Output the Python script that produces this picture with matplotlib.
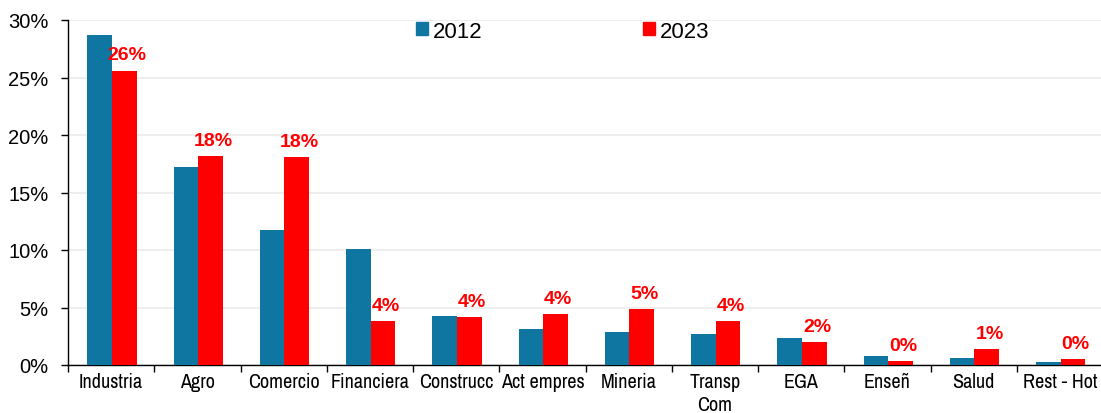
import numpy as np
import matplotlib
matplotlib.use("Agg")
import matplotlib.pyplot as plt
from matplotlib import font_manager
from matplotlib.patches import Patch
from matplotlib.ticker import MultipleLocator, FuncFormatter, FixedLocator

# datos (participación por sector)
sectores = ['Industria', 'Agro', 'Comercio', 'Financiera', 'Construcc', 'Act empres',
            'Mineria', 'Transp\nCom', 'EGA', 'Enseñ', 'Salud', 'Rest - Hot']
v2012 = [28.7, 17.2, 11.7, 10.1, 4.3, 3.1, 2.9, 2.7, 2.35, 0.75, 0.64, 0.26]
v2023 = [25.6, 18.2, 18.1, 3.8, 4.15, 4.4, 4.9, 3.8, 1.97, 0.38, 1.36, 0.49]
etiquetas_2023 = ['26%', '18%', '18%', '4%', '4%', '4%', '5%', '4%', '2%', '0%', '1%', '0%']

color_2012 = '#0E76A0'
color_2023 = '#FF0000'

plt.rcParams['font.family'] = ['Liberation Sans', 'DejaVu Sans']

# fuente estrecha para el eje x si existe alguna instalada
narrow = None
for f in font_manager.fontManager.ttflist:
    if 'Narrow' in f.name or ('Condensed' in f.name and 'Sans' in f.name):
        narrow = f.name
        break
if narrow:
    xfont = dict(fontfamily=[narrow, 'Liberation Sans'], fontsize=14.5)
else:
    xfont = dict(fontfamily=['Liberation Sans'], fontsize=12)

fig = plt.figure(figsize=(11.01, 4.14), dpi=100)
ax = fig.add_axes([68 / 1101, 48 / 414, 1035 / 1101, 345 / 414])

x = np.arange(len(sectores))
w = 0.285
ax.bar(x - w / 2 + 0.01, v2012, width=w, color=color_2012, zorder=3)
ax.bar(x + w / 2 + 0.01, v2023, width=w, color=color_2023, zorder=3)

# etiquetas de 2023
for xi, v, lab in zip(x, v2023, etiquetas_2023):
    ax.annotate(lab, (xi + w / 2 + 0.01, v), xytext=(2, 8), textcoords='offset points',
                ha='center', va='baseline', color=color_2023, fontsize=14, fontweight='bold')

ax.set_xlim(-0.5, len(sectores) - 0.5)
ax.set_ylim(0, 30)
ax.yaxis.set_major_locator(MultipleLocator(5))
ax.yaxis.set_major_formatter(FuncFormatter(lambda v, p: f'{v:.0f}%'))
ax.grid(axis='y', color='#EBEBEB', linewidth=1.2, zorder=0)
ax.set_axisbelow(True)

# ticks del eje x en los bordes de categoría, etiquetas en el centro
ax.xaxis.set_major_locator(FixedLocator(np.arange(-0.5, len(sectores), 1.0)))
ax.xaxis.set_major_formatter(FuncFormatter(lambda v, p: ''))
ax.set_xticks(x, minor=True)
ax.set_xticklabels(sectores, minor=True, linespacing=1.25, **xfont)
ax.tick_params(axis='x', which='minor', length=0, pad=5)
ax.tick_params(axis='x', which='major', length=5, width=1, direction='out', color='black')
ax.tick_params(axis='y', length=5, width=1, labelsize=14.5, pad=9)

for s in ['top', 'right']:
    ax.spines[s].set_visible(False)
ax.spines['left'].set_linewidth(1)
ax.spines['bottom'].set_linewidth(1)

handles = [Patch(color=color_2012, label='2012'), Patch(color=color_2023, label='2023')]
fig.legend(handles=handles, loc='center left', bbox_to_anchor=(416 / 1101, 1 - 32 / 414),
           ncol=2, frameon=False, fontsize=16, handlelength=0.54, handleheight=0.54,
           handletextpad=0.2, columnspacing=7.25, borderpad=0, borderaxespad=0)

fig.savefig('out.png', dpi=100)
